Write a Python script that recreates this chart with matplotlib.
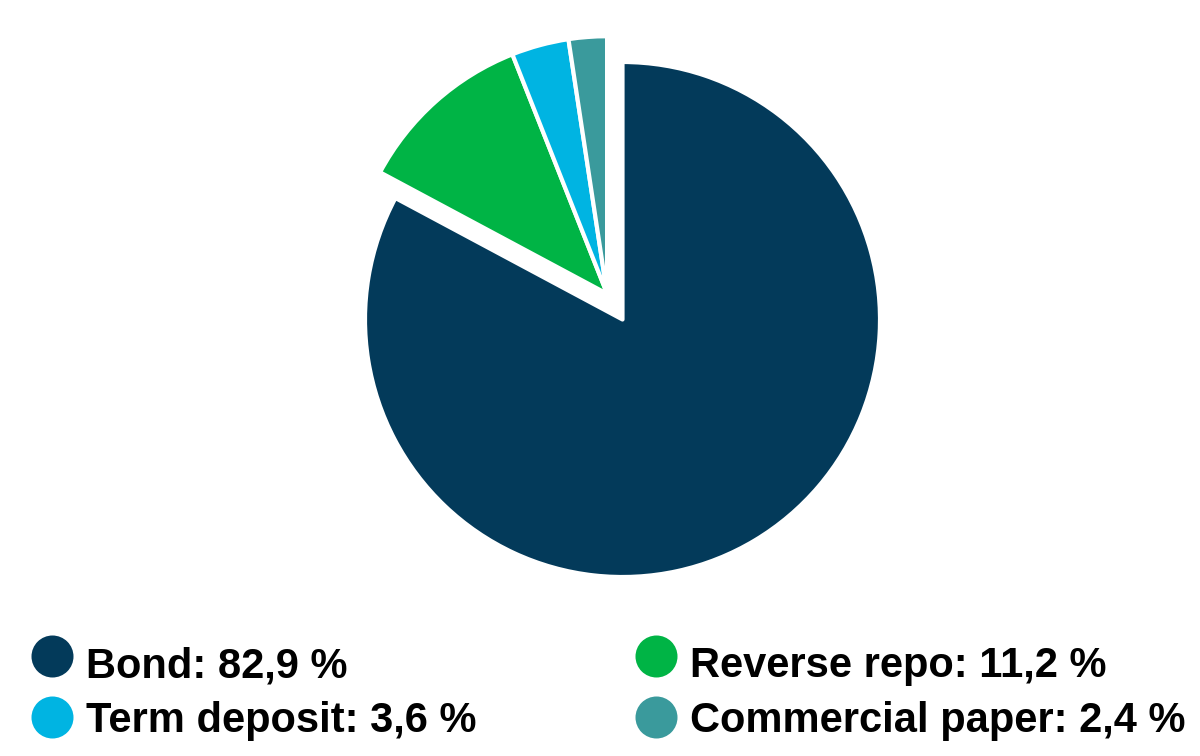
import numpy as np
import matplotlib
matplotlib.use("Agg")
import matplotlib.pyplot as plt
from matplotlib.patches import Circle

categories = ["Bond", "Reverse repo", "Term deposit", "Commercial paper"]
values = [82.9, 11.2, 3.6, 2.4]
colors = ["#033a5a", "#00b445", "#00b4e2", "#3a9a9c"]

W, H = 1200, 756
fig = plt.figure(figsize=(W / 100, H / 100), dpi=100)
ax = fig.add_axes([0, 0, 1, 1])
ax.set_xlim(0, W)
ax.set_ylim(0, H)
ax.set_aspect("equal")
ax.axis("off")

cx, cy, R = 622.5, H - 319.5, 257.5
wedges, _ = ax.pie(values, colors=colors, startangle=90, counterclock=False,
                   radius=R, center=(cx, cy),
                   wedgeprops=dict(edgecolor="white", linewidth=3, joinstyle="round"))
ax.set_xlim(0, W)
ax.set_ylim(0, H)

# explode the small slices together as one group
group = wedges[1:]
lo = min(w.theta1 for w in group)
hi = max(w.theta2 for w in group)
mid = np.deg2rad((lo + hi) / 2)
d = 30
for w in group:
    w.set_center((cx + d * np.cos(mid), cy + d * np.sin(mid)))

# legend
col_x = [52.5, 656.5]
row_y = [H - 656.5, H - 717.5]
text_base = [H - 677, H - 732]
for i, (name, val, col) in enumerate(zip(categories, values, colors)):
    r, c = divmod(i, 2)
    ax.add_patch(Circle((col_x[c], row_y[r]), 21, color=col, lw=0))
    label = f"{name}: {val:.1f} %".replace(".", ",")
    ax.text(col_x[c] + 34, text_base[r], label, fontsize=30, fontweight="bold",
            family=["Liberation Sans", "DejaVu Sans"], va="baseline", ha="left",
            color="black")

fig.savefig("out.png", dpi=100, facecolor="white")
